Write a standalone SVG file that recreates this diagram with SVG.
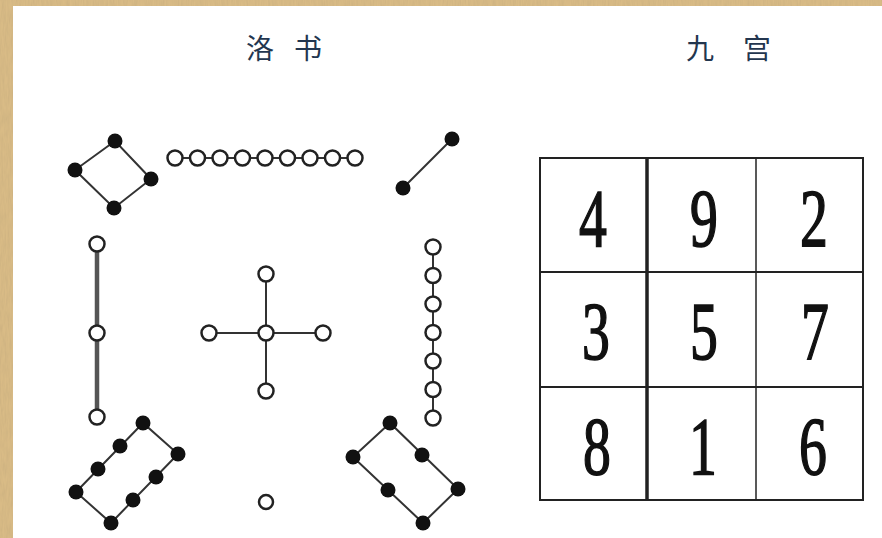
<svg xmlns="http://www.w3.org/2000/svg" width="882" height="538" viewBox="0 0 882 538">
<defs>
<filter id="paper" x="0" y="0" width="100%" height="100%">
<feTurbulence type="fractalNoise" baseFrequency="0.6 0.08" numOctaves="3" seed="4" result="n"/>
<feColorMatrix in="n" type="matrix" values="0 0 0 0 0.62  0 0 0 0 0.45  0 0 0 0 0.22  0 0 0 1.6 -0.45" result="c"/>
<feComposite in="c" in2="SourceGraphic" operator="atop"/>
</filter>
<style>
.blk{fill:#111}
.wht{fill:#fff;stroke:#222;stroke-width:2.5}
.ln{stroke:#333;stroke-width:2;fill:none}
.thick{stroke:#555;stroke-width:4.5;fill:none}
.title{font-family:"Noto Sans CJK SC","Noto Sans CJK TC",sans-serif;font-size:28px;fill:#23364f}
.dig{font-family:"Liberation Serif","DejaVu Serif",serif;font-size:82px;fill:#111;stroke:#111;stroke-width:1.6;text-anchor:middle}
.grid{stroke:#222;fill:none}
</style>
</defs>
<rect x="0" y="0" width="882" height="538" fill="#d9bb86" filter="url(#paper)"/>
<rect x="13" y="6" width="869" height="532" fill="#fff"/>

<g id="titles">
<text class="title" x="246" y="59">洛</text>
<text class="title" x="294" y="59">书</text>
<text class="title" x="686" y="59">九</text>
<text class="title" x="743" y="59">宫</text>
</g>

<g id="connectors">
<path class="ln" d="M115,141 L75,170 L114,208 L151,179 Z"/>
<line class="ln" x1="175" y1="158" x2="355" y2="158"/>
<line class="ln" x1="403" y1="188" x2="452" y2="139"/>
<line class="thick" x1="97" y1="244" x2="97" y2="417"/>
<line class="ln" x1="209" y1="333" x2="323" y2="333"/>
<line class="ln" x1="266" y1="274" x2="266" y2="391"/>
<line class="ln" x1="433" y1="247" x2="433" y2="418"/>
<path class="ln" d="M143,423 L76,492 L111,523 L178,454 Z"/>
<path class="ln" d="M390,423 L353,457 L423,523 L458,489 Z"/>
</g>

<g id="node-4">
<circle class="blk" cx="115" cy="141" r="7.5"/>
<circle class="blk" cx="75" cy="170" r="7.5"/>
<circle class="blk" cx="151" cy="179" r="7.5"/>
<circle class="blk" cx="114" cy="208" r="7.5"/>
</g>
<g id="node-9">
<circle class="wht" cx="175" cy="158" r="7.5"/>
<circle class="wht" cx="197.5" cy="158" r="7.5"/>
<circle class="wht" cx="220" cy="158" r="7.5"/>
<circle class="wht" cx="242.5" cy="158" r="7.5"/>
<circle class="wht" cx="265" cy="158" r="7.5"/>
<circle class="wht" cx="287.5" cy="158" r="7.5"/>
<circle class="wht" cx="310" cy="158" r="7.5"/>
<circle class="wht" cx="332.5" cy="158" r="7.5"/>
<circle class="wht" cx="355" cy="158" r="7.5"/>
</g>
<g id="node-2">
<circle class="blk" cx="452" cy="139" r="7.5"/>
<circle class="blk" cx="403" cy="188" r="7.5"/>
</g>
<g id="node-3">
<circle class="wht" cx="97" cy="244" r="7.5"/>
<circle class="wht" cx="97" cy="333" r="7.5"/>
<circle class="wht" cx="97" cy="417" r="7.5"/>
</g>
<g id="node-5">
<circle class="wht" cx="266" cy="333" r="7.5"/>
<circle class="wht" cx="266" cy="274" r="7.5"/>
<circle class="wht" cx="266" cy="391" r="7.5"/>
<circle class="wht" cx="209" cy="333" r="7.5"/>
<circle class="wht" cx="323" cy="333" r="7.5"/>
</g>
<g id="node-7">
<circle class="wht" cx="433" cy="247" r="7.5"/>
<circle class="wht" cx="433" cy="275.5" r="7.5"/>
<circle class="wht" cx="433" cy="304" r="7.5"/>
<circle class="wht" cx="433" cy="332.5" r="7.5"/>
<circle class="wht" cx="433" cy="361" r="7.5"/>
<circle class="wht" cx="433" cy="389.5" r="7.5"/>
<circle class="wht" cx="433" cy="418" r="7.5"/>
</g>
<g id="node-8">
<circle class="blk" cx="143" cy="423" r="7.5"/>
<circle class="blk" cx="120" cy="446" r="7.5"/>
<circle class="blk" cx="98" cy="469" r="7.5"/>
<circle class="blk" cx="76" cy="492" r="7.5"/>
<circle class="blk" cx="111" cy="523" r="7.5"/>
<circle class="blk" cx="133" cy="500" r="7.5"/>
<circle class="blk" cx="156" cy="477" r="7.5"/>
<circle class="blk" cx="178" cy="454" r="7.5"/>
</g>
<g id="node-1">
<circle class="wht" cx="266" cy="502" r="7"/>
</g>
<g id="node-6">
<circle class="blk" cx="390" cy="423" r="7.5"/>
<circle class="blk" cx="353" cy="457" r="7.5"/>
<circle class="blk" cx="422" cy="455" r="7.5"/>
<circle class="blk" cx="388" cy="490" r="7.5"/>
<circle class="blk" cx="458" cy="489" r="7.5"/>
<circle class="blk" cx="423" cy="523" r="7.5"/>
</g>

<g id="grid">
<rect class="grid" x="540" y="158" width="323" height="342" stroke-width="2"/>
<line class="grid" x1="647" y1="158" x2="647" y2="500" stroke-width="3.5"/>
<line class="grid" x1="756" y1="158" x2="756" y2="500" stroke-width="1.5" stroke="#444"/>
<line class="grid" x1="540" y1="272" x2="863" y2="272" stroke-width="2.2"/>
<line class="grid" x1="540" y1="387" x2="863" y2="387" stroke-width="2.2"/>
</g>
<g id="digits">
<text class="dig" transform="translate(593,246) scale(0.68,1)">4</text>
<text class="dig" transform="translate(704,246) scale(0.68,1)">9</text>
<text class="dig" transform="translate(814,246) scale(0.68,1)">2</text>
<text class="dig" transform="translate(596,359) scale(0.68,1)">3</text>
<text class="dig" transform="translate(704,359) scale(0.68,1)">5</text>
<text class="dig" transform="translate(815,359) scale(0.68,1)">7</text>
<text class="dig" transform="translate(597,474) scale(0.68,1)">8</text>
<text class="dig" transform="translate(703,474) scale(0.68,1)">1</text>
<text class="dig" transform="translate(813,474) scale(0.68,1)">6</text>
</g>
</svg>
